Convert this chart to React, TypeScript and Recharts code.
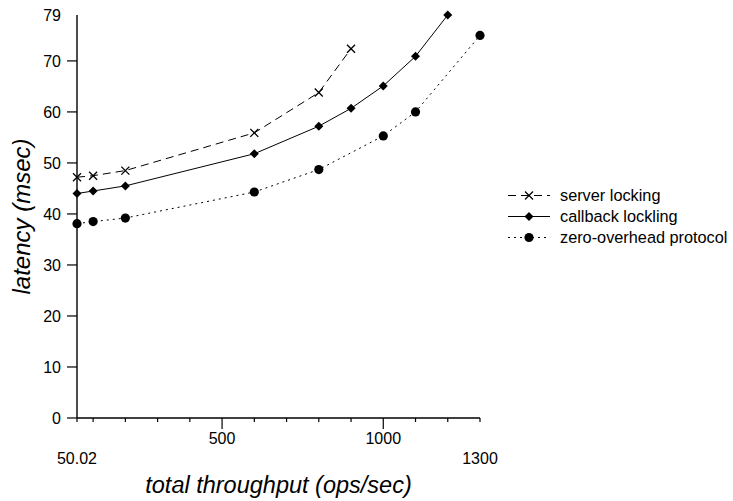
import React from "react";
import { LineChart, Line, XAxis, YAxis, Legend } from "recharts";

const FONT = "'Liberation Sans', Arial, Helvetica, sans-serif";

// throughput (ops/sec) for each series
const serverX = [50.02, 100, 200, 600, 800, 900];
const serverY = [47.2, 47.5, 48.5, 55.9, 63.8, 72.4];

const callbackX = [50.02, 100, 200, 600, 800, 900, 1000, 1100, 1200];
const callbackY = [44.0, 44.5, 45.5, 51.8, 57.2, 60.7, 65.1, 70.9, 79.0];

const zeroX = [50.02, 100, 200, 600, 800, 1000, 1100, 1300];
const zeroY = [38.1, 38.5, 39.2, 44.3, 48.7, 55.3, 60.0, 75.0];

const xTicks = [50.02, 100, 200, 300, 400, 500, 600, 700, 800, 900, 1000, 1100, 1200, 1300];
const xUpperLabels = [500, 1000];
const xLowerLabels = [50.02, 1300];
const yTicks = [0, 10, 20, 30, 40, 50, 60, 70, 79];

const zip = (xs: number[], ys: number[]) => xs.map((x, i) => ({ x, y: ys[i] }));

const serverData = zip(serverX, serverY);
const callbackData = zip(callbackX, callbackY);
const zeroData = zip(zeroX, zeroY);

const CrossDot = ({ cx, cy }: any) => (
    <g stroke="#000" strokeWidth={1.3}>
        <line x1={cx - 4} y1={cy - 4} x2={cx + 4} y2={cy + 4} />
        <line x1={cx - 4} y1={cy + 4} x2={cx + 4} y2={cy - 4} />
    </g>
);

const DiamondDot = ({ cx, cy }: any) => (
    <polygon
        points={`${cx},${cy - 4.5} ${cx + 4.5},${cy} ${cx},${cy + 4.5} ${cx - 4.5},${cy}`}
        fill="#000"
    />
);

const CircleDot = ({ cx, cy }: any) => <circle cx={cx} cy={cy} r={4.6} fill="#000" />;

const series = [
    { name: "server locking", data: serverData, dash: "8 5", Dot: CrossDot },
    { name: "callback lockling", data: callbackData, dash: undefined, Dot: DiamondDot },
    { name: "zero-overhead protocol", data: zeroData, dash: "2 4", Dot: CircleDot },
];

const XTick = ({ x, y, payload }: any) => {
    const v = payload.value;
    const major = xUpperLabels.includes(v);
    const lower = xLowerLabels.includes(v);
    return (
        <g>
            <line x1={x} y1={y} x2={x} y2={y + (major ? 11 : 4)} stroke="#000" strokeWidth={1.2} />
            {major && (
                <text x={x} y={y + 26} textAnchor="middle" fontSize={16} fontFamily={FONT} fill="#000">
                    {v}
                </text>
            )}
            {lower && (
                <text x={x} y={y + 46} textAnchor="middle" fontSize={16} fontFamily={FONT} fill="#000">
                    {v}
                </text>
            )}
        </g>
    );
};

const YTick = ({ x, y, payload }: any) => {
    const v = payload.value;
    return (
        <g>
            {v !== 79 && <line x1={x - 10} y1={y} x2={x} y2={y} stroke="#000" strokeWidth={1.2} />}
            <text x={x - 16} y={y + 5.7} textAnchor="end" fontSize={16} fontFamily={FONT} fill="#000">
                {v}
            </text>
        </g>
    );
};

const LegendContent = () => (
    <div style={{ fontFamily: FONT, fontSize: 16.3, color: "#000" }}>
        {series.map((s) => (
            <div key={s.name} style={{ height: 21, display: "flex", alignItems: "center" }}>
                <svg width={60} height={21} style={{ display: "block" }}>
                    <line x1={8} y1={10.5} x2={50} y2={10.5} stroke="#000" strokeWidth={1} strokeDasharray={s.dash} />
                    <s.Dot cx={29} cy={10.5} />
                </svg>
                <span style={{ whiteSpace: "nowrap" }}>{s.name}</span>
            </div>
        ))}
    </div>
);

export default function App() {
    return (
        <div style={{ position: "absolute", left: 0, top: 0, background: "#fff" }}>
            <LineChart width={733} height={501} margin={{ top: 15, right: 253, bottom: 0, left: 0 }}>
                <XAxis
                    type="number"
                    dataKey="x"
                    domain={[50.02, 1300]}
                    ticks={xTicks}
                    interval={0}
                    height={83}
                    tickSize={0}
                    tickMargin={0}
                    tick={<XTick />}
                    axisLine={{ stroke: "#000", strokeWidth: 1.4 }}
                    label={{
                        value: "total throughput (ops/sec)",
                        position: "insideBottom",
                        offset: 8,
                        style: { fontFamily: FONT, fontSize: 23.5, fontStyle: "italic", fill: "#000" },
                    }}
                />
                <YAxis
                    type="number"
                    domain={[0, 79]}
                    ticks={yTicks}
                    interval={0}
                    width={77}
                    tickSize={0}
                    tickMargin={0}
                    tick={<YTick />}
                    axisLine={{ stroke: "#000", strokeWidth: 1.4 }}
                    label={(props: any) => {
                        const vb = props.viewBox;
                        const cy = vb.y + vb.height / 2;
                        return (
                            <text
                                x={30}
                                y={cy}
                                transform={`rotate(-90, 30, ${cy})`}
                                textAnchor="middle"
                                fontFamily={FONT}
                                fontSize={24}
                                fontStyle="italic"
                                fill="#000"
                            >
                                latency (msec)
                            </text>
                        );
                    }}
                />
                <Legend
                    layout="horizontal"
                    verticalAlign="middle"
                    align="center"
                    wrapperStyle={{ left: 500, top: 185, width: 233 }}
                    content={<LegendContent />}
                />
                {series.map((s) => (
                    <Line
                        key={s.name}
                        name={s.name}
                        data={s.data}
                        dataKey="y"
                        type="linear"
                        stroke="#000"
                        strokeWidth={1}
                        strokeDasharray={s.dash}
                        dot={<s.Dot />}
                        activeDot={false}
                        isAnimationActive={false}
                    />
                ))}
            </LineChart>
        </div>
    );
}
